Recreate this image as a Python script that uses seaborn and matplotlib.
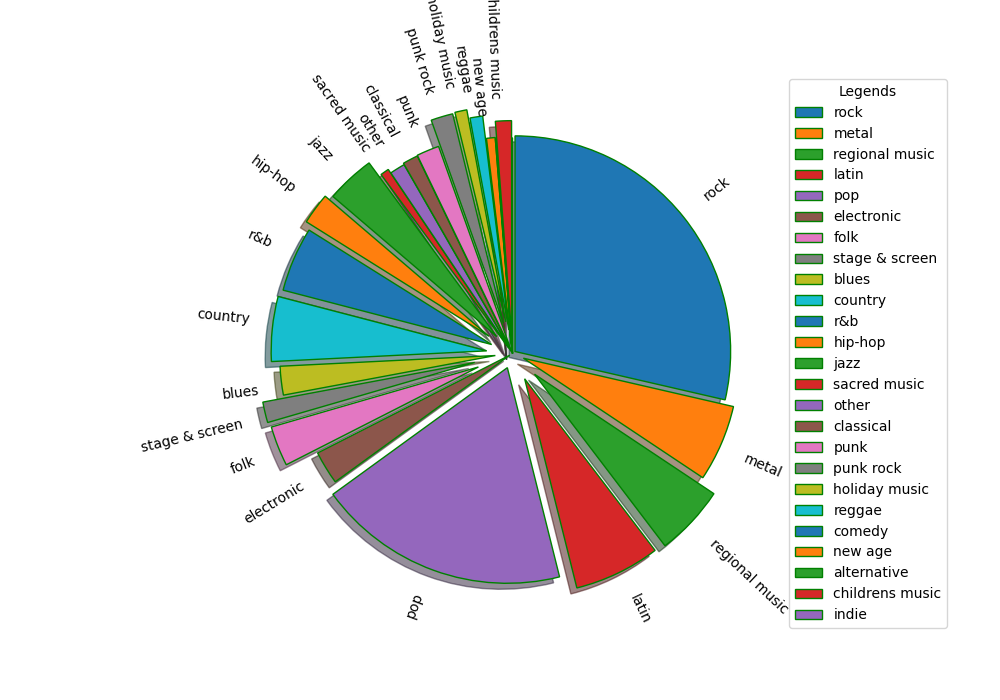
import matplotlib
matplotlib.use("Agg")
import matplotlib.pyplot as plt
import seaborn as sns

categories = ["rock", "metal", "regional music", "latin", "pop", "electronic", "folk",
              "stage & screen", "blues", "country", "r&b", "hip-hop", "jazz",
              "sacred music", "other", "classical", "punk", "punk rock",
              "holiday music", "reggae", "comedy", "new age", "alternative",
              "childrens music", "indie"]
values = [28.6, 5.75, 5.3, 6.45, 18.9, 2.5, 3.0,
          1.55, 2.15, 4.85, 4.85, 2.35, 3.65,
          0.65, 1.15, 1.15, 1.7, 1.65,
          0.9, 0.95, 0.02, 0.65, 0.05,
          1.2, 0.02]
explode = [0.015, 0.055, 0.14, 0.13, 0.07, 0.015, 0.17,
           0.18, 0.08, 0.12, 0.105, 0.135, 0.107,
           0.03, 0.01, 0.017, 0.02, 0.146,
           0.15, 0.11, 0.0, 0.005, 0.0,
           0.08, 0.0]

pie_labels = [c if v >= 0.5 else "" for c, v in zip(categories, values)]
colors = sns.color_palette("tab10", 10)
colors = [colors[i % 10] for i in range(len(categories))]

fig, ax = plt.subplots(figsize=(10, 7), dpi=100)
wedges, texts = ax.pie(values, labels=pie_labels, explode=explode, shadow=True,
                       startangle=90, counterclock=False, rotatelabels=True,
                       colors=colors, wedgeprops=dict(edgecolor="green"))
ax.legend(wedges, categories, title="Legends", loc="center left",
          bbox_to_anchor=(1, 0, 0.5, 1))
fig.savefig("out.png", dpi=100)
